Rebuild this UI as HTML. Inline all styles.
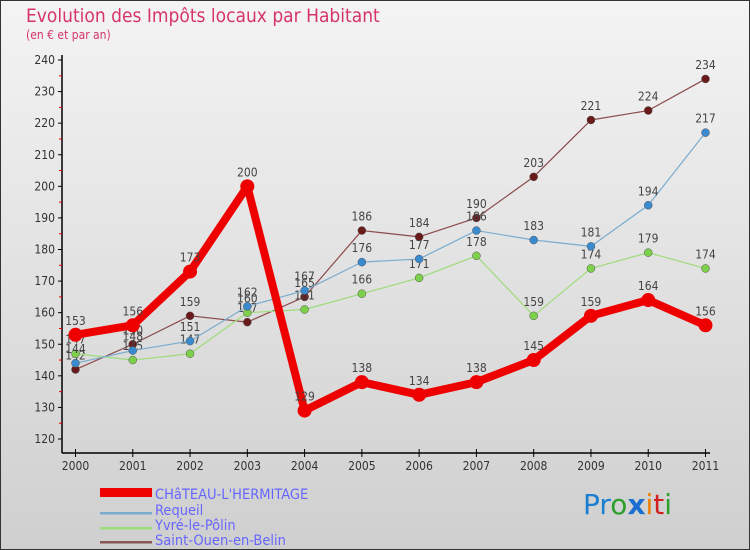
<!DOCTYPE html>
<html><head><meta charset="utf-8"><style>
body{margin:0;}
#c{width:750px;height:550px;position:relative;overflow:hidden;font-family:"DejaVu Sans Condensed","Liberation Sans Narrow","Liberation Sans",sans-serif;}
</style></head><body>
<div id="c">
<svg id="s" width="750" height="550" xmlns="http://www.w3.org/2000/svg">
<defs><linearGradient id="bg" x1="0" y1="0" x2="0" y2="1"><stop offset="0" stop-color="#f4f4f4"/><stop offset="1" stop-color="#cfcfcf"/></linearGradient></defs>
<rect x="0.5" y="0.5" width="749" height="549" fill="url(#bg)" stroke="#333"/>
<text x="26" y="22" font-size="19" fill="#d6336c">Evolution des Impôts locaux par Habitant</text>
<text x="26" y="39" font-size="12" fill="#d6336c">(en € et par an)</text>
<g id="axes"></g><g id="series"></g>
<g>
<rect x="100" y="488" width="52" height="9" fill="#e00"/>
<text x="155" y="499" font-size="14.5" fill="#6666ff">CHâTEAU-L'HERMITAGE</text>
<rect x="100" y="512" width="52" height="2.5" fill="#7aaccf"/>
<text x="155" y="515" font-size="14.5" fill="#6666ff">Requeil</text>
<rect x="100" y="527" width="52" height="2.5" fill="#9ddc7a"/>
<text x="155" y="530" font-size="14.5" fill="#6666ff">Yvré-le-Pôlin</text>
<rect x="100" y="541" width="52" height="2.5" fill="#8a5555"/>
<text x="155" y="545" font-size="14.5" fill="#6666ff">Saint-Ouen-en-Belin</text>
</g>
<text x="583" y="514" font-size="28" font-family="DejaVu Sans, sans-serif"><tspan fill="#1a7fd0">Pr</tspan><tspan fill="#2aa02a">o</tspan><tspan fill="#1a6fd0" font-weight="bold">x</tspan><tspan fill="#f07d00">i</tspan><tspan fill="#d02020">t</tspan><tspan fill="#2aa02a">i</tspan></text>
</svg></div>
<script>
const years=["2000","2001","2002","2003","2004","2005","2006","2007","2008","2009","2010","2011"];
const chateau=[153,156,173,200,129,138,134,138,145,159,164,156];
const requeil=[144,148,151,162,167,176,177,186,183,181,194,217];
const yvre=[147,145,147,160,161,166,171,178,159,174,179,174];
const saintOuen=[142,150,159,157,165,186,184,190,203,221,224,234];
const yTicks=[120,130,140,150,160,170,180,190,200,210,220,230,240];
const NS="http://www.w3.org/2000/svg";
const X=i=>75.5+i*(705.5-75.5)/11;
const Y=v=>439-(v-120)*(439-60)/120;
function mk(t,a,p){const e=document.createElementNS(NS,t);for(const k in a)e.setAttribute(k,a[k]);p.appendChild(e);return e;}
const ax=document.getElementById('axes');
const yl=mk('line',{x1:62,y1:55,x2:62,y2:453,stroke:'#000','stroke-width':1.5},ax);


const xl=mk('line',{x1:62,y1:453,x2:710,y2:453,stroke:'#000','stroke-width':1.5},ax);


yTicks.forEach(v=>{
 mk('line',{x1:58,y1:Y(v),x2:62,y2:Y(v),stroke:'#000'},ax);
 if(v<240)mk('line',{x1:59,y1:Y(v+5),x2:62,y2:Y(v+5),stroke:'#e00'},ax);
 const t=mk('text',{x:55,y:Y(v)+4,'font-size':12,fill:'#333','text-anchor':'end'},ax);t.textContent=v;
 
 
});
years.forEach((y,i)=>{
 mk('line',{x1:X(i),y1:449,x2:X(i),y2:457,stroke:'#000'},ax);
 const t=mk('text',{x:X(i),y:470,'font-size':12,fill:'#333','text-anchor':'middle'},ax);t.textContent=y;
 
 
});
const sg=document.getElementById('series');
function draw(vals,color,w,r,name,dot){
 const g=mk('g',{},sg);
 
 
 mk('polyline',{points:vals.map((v,i)=>X(i)+','+Y(v)).join(' '),fill:'none',stroke:color,'stroke-width':w,'stroke-linejoin':'round'},g);
 vals.forEach((v,i)=>{
  const c=mk('circle',{cx:X(i),cy:Y(v),r:r,fill:dot,stroke:'#555','stroke-width':w>3?0:0.5},g);
  
  
  const t=mk('text',{x:X(i),y:Y(v)-10,'font-size':12,fill:'#444','text-anchor':'middle'},g);t.textContent=v;
  
  
 });
}
draw(saintOuen,'#8a4a4a',1.2,4,'saint-ouen','#6a1a1a');
draw(yvre,'#9ddc7a',1.2,4,'yvre','#7cd04a');
draw(requeil,'#7aaccf',1.2,4,'requeil','#3a8ad0');
draw(chateau,'#ee0000',8,7,'chateau','#ee0000');
</script></body></html>
